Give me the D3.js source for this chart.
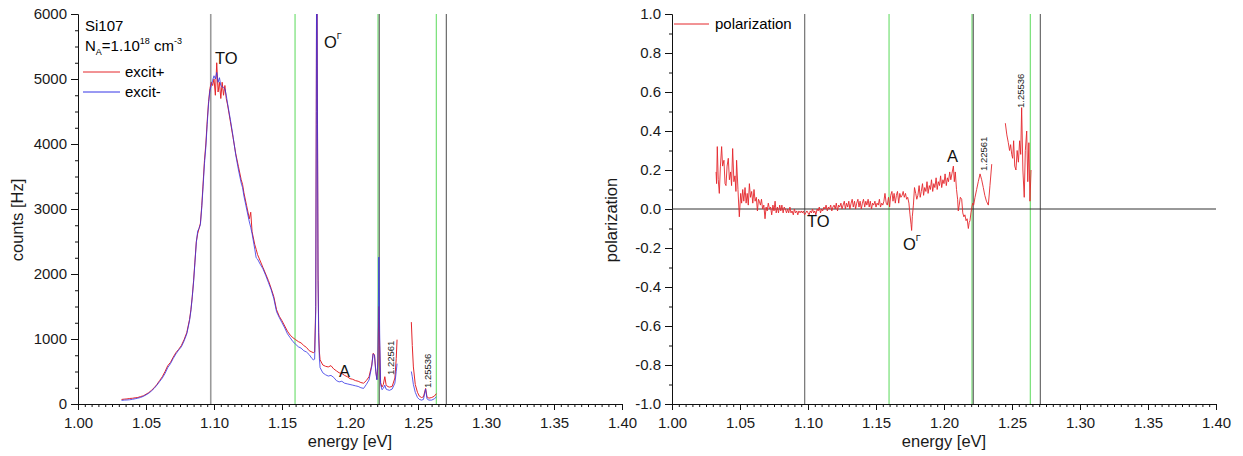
<!DOCTYPE html>
<html>
<head>
<meta charset="utf-8">
<script src="https://cdn.jsdelivr.net/npm/d3@7"></script>
<style>
  html, body { margin: 0; padding: 0; background: #fff; }
  svg { display: block; font-family: "Liberation Sans", Arial, sans-serif; }
  .tick text { font-size: 15px; fill: #1a1a1a; }
  .domain, .tick line { stroke: #111; }
</style>
</head>
<body>
<svg id="chart" width="1243" height="456"></svg>
<script>
// ---- photoluminescence spectra, Si107 (energy in eV, counts in Hz) ----
// null entries separate the two measured windows
const energyPL = [
  1.032,1.034,1.036,1.038,1.040,1.042,1.044,1.046,1.048,1.050,
  1.052,1.054,1.056,1.058,1.060,1.062,1.064,1.066,1.068,1.070,
  1.072,1.074,1.076,1.078,1.080,1.082,1.083,1.084,1.085,1.086,
  1.087,1.088,1.089,1.090,1.091,1.092,1.093,1.094,1.095,1.096,
  1.097,1.098,1.099,1.100,1.101,1.102,1.103,1.104,1.105,1.106,
  1.107,1.108,1.109,1.110,1.112,1.114,1.116,1.118,1.120,1.121,
  1.122,1.124,1.126,1.127,1.128,1.130,1.131,1.132,1.134,1.136,
  1.138,1.140,1.142,1.144,1.146,1.148,1.150,1.152,1.154,1.156,
  1.158,1.160,1.162,1.164,1.166,1.168,1.170,1.172,1.173,1.174,
  1.1748,1.1752,1.1756,1.1760,1.1765,1.1770,1.1775,1.178,1.180,1.182,
  1.184,1.186,1.188,1.190,1.192,1.194,1.196,1.198,1.200,1.202,
  1.204,1.206,1.208,1.210,1.212,1.214,1.216,1.217,1.218,1.219,
  1.2198,1.2205,1.2212,1.2218,1.2225,1.2235,1.2245,1.2256,1.2265,1.2275,
  1.229,1.231,1.233,1.234,1.2346,
  null,
  1.2451,1.2458,1.2466,1.248,1.2496,1.251,1.2526,1.254,1.2556,1.2566,
  1.258,1.2601,1.262,1.2635
];
const excitPlus = [
  70,75,78,85,88,95,100,115,125,150,
  175,210,250,300,360,420,500,590,640,720,
  790,840,900,990,1100,1300,1450,1650,1900,2200,
  2500,2620,2700,2780,3050,3400,3750,4000,4350,4650,
  4850,4950,4900,5000,4750,5250,4800,4950,4700,4950,
  4750,4900,4700,4600,4350,4100,3850,3650,3450,3380,
  3250,3050,2850,2950,2650,2450,2380,2300,2200,2100,
  2000,1900,1780,1650,1450,1350,1280,1200,1120,1060,
  1020,990,960,940,900,870,820,800,790,800,
  1500,4500,8000,5000,2000,1100,800,680,600,580,
  570,590,540,510,480,470,440,420,390,380,
  360,350,330,320,360,420,600,780,760,500,
  380,600,1500,900,330,260,300,420,300,270,
  260,270,400,700,990,
  null,
  1260,900,570,300,180,120,100,110,240,110,
  90,100,120,160
];
const excitMinus = [
  55,60,62,65,72,80,90,100,118,140,
  165,200,240,290,345,400,470,560,620,700,
  770,830,880,970,1080,1280,1430,1640,1880,2180,
  2480,2660,2700,2760,3020,3350,3700,3950,4300,4620,
  4820,4900,4980,5050,5000,5100,4950,5020,4900,4880,
  4870,4850,4750,4620,4380,4120,3830,3600,3400,3330,
  3200,3000,2800,2720,2620,2380,2250,2230,2150,2080,
  1980,1870,1760,1620,1420,1330,1250,1170,1080,1020,
  960,920,880,860,820,800,760,700,680,690,
  1400,4300,8000,4800,1900,1000,700,560,480,450,
  430,440,410,360,340,350,320,310,300,290,
  280,270,250,240,300,370,580,770,750,480,
  370,700,2260,1100,300,220,240,290,230,220,
  210,230,320,500,620,
  null,
  500,420,300,180,100,70,60,70,230,80,
  60,60,80,110
];

// ---- polarization spectrum ----
const energyPol = [
  1.0324,1.0328,1.0333,1.0340,1.0348,1.0356,1.0365,1.0372,1.0382,1.0390,
  1.0397,1.0405,1.0414,1.0422,1.0431,1.0438,1.0446,1.0455,1.0463,1.0470,
  1.0475,1.0485,1.0495,1.0505,1.0512,1.0520,1.0528,1.0537,1.0545,1.0553,
  1.0561,1.0569,1.0577,1.0586,1.0594,1.0603,1.0611,1.0620,1.0628,1.0636,
  1.0642,1.0650,1.0658,1.0666,1.0675,1.0684,1.0692,1.0700,1.0708,1.0717,
  1.0725,1.0733,1.0742,1.0750,1.0758,1.0766,1.0775,1.0783,1.0792,1.0800,
  1.0808,1.0817,1.0825,1.0833,1.0842,1.0850,1.0858,1.0867,1.0875,1.0883,
  1.0892,1.0900,1.0908,1.0917,1.0925,1.0933,1.0942,1.0950,1.0958,1.0966,
  1.0975,1.0983,1.0992,1.1000,1.1008,1.1017,1.1025,1.1033,1.1042,1.1050,
  1.1058,1.1067,1.1075,1.1083,1.1092,1.1100,1.1108,1.1117,1.1125,1.1133,
  1.1142,1.1150,1.1158,1.1167,1.1175,1.1183,1.1192,1.1200,1.1208,1.1217,
  1.1225,1.1233,1.1242,1.1250,1.1258,1.1267,1.1275,1.1283,1.1292,1.1300,
  1.1308,1.1317,1.1325,1.1333,1.1342,1.1350,1.1358,1.1367,1.1375,1.1383,
  1.1392,1.1400,1.1408,1.1417,1.1425,1.1433,1.1442,1.1450,1.1458,1.1467,
  1.1475,1.1483,1.1492,1.1500,1.1508,1.1517,1.1525,1.1533,1.1542,1.1550,
  1.1558,1.1566,1.1575,1.1583,1.1592,1.1600,1.1608,1.1617,1.1625,1.1633,
  1.1642,1.1650,1.1658,1.1667,1.1675,1.1683,1.1692,1.1700,1.1708,1.1717,
  1.1725,1.1733,1.1742,1.1750,1.1758,1.1762,1.1767,1.1775,1.1783,1.1792,
  1.1800,1.1808,1.1817,1.1825,1.1833,1.1842,1.1850,1.1858,1.1867,1.1875,
  1.1883,1.1892,1.1900,1.1908,1.1917,1.1925,1.1933,1.1942,1.1950,1.1958,
  1.1967,1.1975,1.1983,1.1992,1.2000,1.2008,1.2017,1.2025,1.2033,1.2042,
  1.2050,1.2058,1.2069,1.2076,1.2083,1.2092,1.2100,1.2105,1.2112,1.2120,
  1.2130,1.2138,1.2146,1.2154,1.2162,1.2170,1.2179,1.2185,1.2191,1.2198,
  1.2205,1.2211,1.2218,1.2228,1.2240,1.2252,1.2265,1.2277,1.2289,1.2300,
  1.2312,1.2326,1.2338,1.2351,
  null,
  1.2451,1.2462,1.2473,1.2482,1.2490,1.2498,1.2505,1.2512,1.2520,1.2529,
  1.2538,1.2547,1.2556,1.2564,1.2571,1.2580,1.2590,1.2598,1.2608,1.2616,
  1.2624,1.2632,1.2640
];
const polarization = [
  0.19,0.13,0.32,0.15,0.08,0.22,0.32,0.22,0.25,0.13,
  0.12,0.22,0.26,0.15,0.19,0.12,0.31,0.14,0.17,0.09,
  0.25,0.10,-0.04,0.08,0.03,0.10,0.04,0.11,0.03,0.08,
  0.02,0.13,0.06,0.09,0.03,0.10,0.04,0.06,-0.01,0.05,
  0.04,0.02,0.05,0.00,0.02,-0.05,0.01,-0.01,0.03,0.00,
  0.01,-0.03,0.02,-0.01,0.04,-0.02,0.01,-0.02,0.02,-0.01,
  0.02,-0.02,0.01,0.00,-0.02,0.00,-0.02,0.01,-0.02,-0.01,
  -0.03,0.00,-0.02,-0.01,-0.03,-0.01,-0.02,-0.01,-0.02,-0.01,
  -0.03,-0.02,-0.01,-0.02,-0.03,-0.01,-0.02,0.00,-0.02,-0.01,
  -0.03,0.00,-0.01,0.01,-0.02,0.00,-0.01,0.01,0.00,0.02,
  -0.01,0.01,0.00,0.02,-0.01,0.01,0.02,0.00,0.03,-0.01,
  0.02,0.01,0.03,0.00,0.02,0.04,0.00,0.03,0.01,0.04,
  0.00,0.03,0.05,0.01,0.04,0.00,0.03,0.05,0.01,0.04,
  0.00,0.03,0.05,0.01,0.04,0.02,0.05,0.01,0.04,0.00,
  0.03,0.02,0.04,0.01,0.03,0.02,0.05,0.01,0.03,0.02,
  0.04,0.08,0.03,0.02,0.06,0.01,0.07,0.09,0.04,0.08,
  0.03,0.07,0.09,0.03,0.08,0.06,0.07,0.09,0.06,0.08,
  0.05,0.06,0.03,-0.03,-0.08,-0.11,-0.04,0.02,0.11,0.08,
  0.05,0.07,0.12,0.06,0.09,0.13,0.07,0.11,0.09,0.14,
  0.08,0.12,0.10,0.15,0.09,0.13,0.11,0.16,0.10,0.14,
  0.12,0.17,0.11,0.15,0.13,0.18,0.12,0.16,0.14,0.19,
  0.15,0.18,0.22,0.14,0.19,0.10,0.05,-0.01,0.02,0.06,
  0.05,-0.02,-0.04,-0.03,-0.06,-0.05,-0.10,-0.07,-0.06,-0.02,
  0.01,0.03,0.02,0.06,0.10,0.14,0.18,0.15,0.11,0.07,
  0.04,0.02,0.12,0.23,
  null,
  0.44,0.38,0.34,0.30,0.33,0.28,0.26,0.35,0.22,0.20,
  0.30,0.24,0.35,0.28,0.52,0.20,0.06,0.30,0.40,0.14,
  0.34,0.04,0.20
];

// ---- reference energies drawn as vertical markers ----
const markerEnergies = [1.0976, 1.1596, 1.2206, 1.2215, 1.2635, 1.2708];
const markerKinds    = ["TO", "green", "green", "dark", "green", "dark"];

// ---- tick values ----
const energyTicks = [1.00, 1.05, 1.10, 1.15, 1.20, 1.25, 1.30, 1.35, 1.40];
const countTicks  = [0, 1000, 2000, 3000, 4000, 5000, 6000];
const polTicks    = [-1.0, -0.8, -0.6, -0.4, -0.2, 0.0, 0.2, 0.4, 0.6, 0.8, 1.0];

const RED = "#e4262b", BLUE = "#3434e6", GREEN = "#7fe27f";

const svg = d3.select("#chart");

// plain hyphen-minus for negative tick labels
const fmtPol = v => d3.format(".1f")(v).replace("\u2212", "-");

function minorValues(lo, hi, step) {
  const n = Math.round((hi - lo) / step);
  return d3.range(n + 1).map(i => +(lo + i * step).toFixed(6));
}

function panel(cfg) {
  const x = d3.scaleLinear().domain([1.0, 1.4]).range([cfg.left, cfg.left + 544]);
  const y = d3.scaleLinear().domain(cfg.yDomain).range([404, 14]);
  const g = svg.append("g");

  const clipId = "clip" + cfg.id;
  svg.append("clipPath").attr("id", clipId)
    .append("rect").attr("x", x(1.0)).attr("y", 14)
    .attr("width", x(1.4) - x(1.0)).attr("height", 390);

  // vertical marker lines
  markerEnergies.forEach((e, i) => {
    const kind = markerKinds[i];
    let stroke = "#4a4a4a", w = 1;
    if (kind === "green") { stroke = GREEN; w = 1.3; }
    if (kind === "TO") { stroke = cfg.toColor; w = cfg.toWidth; }
    g.append("line")
      .attr("x1", x(e)).attr("x2", x(e))
      .attr("y1", y.range()[1]).attr("y2", y.range()[0])
      .attr("stroke", stroke).attr("stroke-width", w);
  });

  // axes: minor ticks first, then labelled majors
  const xMinor = d3.axisBottom(x).tickValues(minorValues(1.0, 1.4, 0.005))
    .tickSize(3).tickSizeOuter(0).tickFormat("");
  const xMajor = d3.axisBottom(x).tickValues(energyTicks)
    .tickSize(6).tickSizeOuter(0).tickPadding(7).tickFormat(d3.format(".2f"));
  g.append("g").attr("transform", "translate(0,404)").call(xMinor);
  g.append("g").attr("transform", "translate(0,404)").call(xMajor);

  const yMinor = d3.axisLeft(y).tickValues(cfg.yMinor)
    .tickSize(3).tickSizeOuter(0).tickFormat("");
  const yMajor = d3.axisLeft(y).tickValues(cfg.yTicks)
    .tickSize(7).tickSizeOuter(0).tickPadding(4).tickFormat(cfg.yFormat);
  g.append("g").attr("transform", `translate(${cfg.left},0)`).call(yMinor);
  g.append("g").attr("transform", `translate(${cfg.left},0)`).call(yMajor);

  g.selectAll(".tick text").attr("font-size", 15);

  // axis titles
  g.append("text")
    .attr("transform", `translate(${cfg.left - 55},220) rotate(-90)`)
    .attr("text-anchor", "middle").attr("font-size", 16.5).attr("fill", "#1a1a1a")
    .text(cfg.yTitle);
  g.append("text")
    .attr("x", cfg.left + 272).attr("y", 447)
    .attr("text-anchor", "middle").attr("font-size", 16.5).attr("fill", "#1a1a1a")
    .text("energy [eV]");

  return { x, y, g, clipId };
}

// ---------------- left panel: counts ----------------
const L = panel({
  id: "L", left: 78, yDomain: [0, 6000], yTicks: countTicks,
  yMinor: minorValues(0, 6000, 250), yFormat: d3.format("d"),
  yTitle: "counts [Hz]", toColor: "#9a9a9a", toWidth: 1.6
});

function seriesLine(sc, xs, ys) {
  return d3.line()
    .defined((d, i) => xs[i] !== null && ys[i] !== null)
    .x((d, i) => sc.x(xs[i]))
    .y((d, i) => sc.y(ys[i]))(xs);
}

const dataL = L.g.append("g").attr("clip-path", `url(#${L.clipId})`);
dataL.append("path").attr("d", seriesLine(L, energyPL, excitPlus))
  .attr("fill", "none").attr("stroke", RED).attr("stroke-width", 1);
dataL.append("path").attr("d", seriesLine(L, energyPL, excitMinus))
  .attr("fill", "none").attr("stroke", BLUE).attr("stroke-width", 1)
  .attr("stroke-opacity", 0.8);

// sample annotation and legend
L.g.append("text").attr("x", 85).attr("y", 31).attr("font-size", 15).text("Si107");
const na = L.g.append("text").attr("x", 85).attr("y", 51).attr("font-size", 15);
na.append("tspan").text("N");
na.append("tspan").attr("font-size", 9).attr("dy", 4).text("A");
na.append("tspan").attr("dy", -4).text("=1.10");
na.append("tspan").attr("font-size", 9).attr("dy", -7).text("18");
na.append("tspan").attr("dy", 7).text(" cm");
na.append("tspan").attr("font-size", 9).attr("dy", -7).text("-3");

[["excit+", RED, 72], ["excit-", BLUE, 92]].forEach(([label, c, yy]) => {
  L.g.append("line").attr("x1", 83).attr("x2", 120).attr("y1", yy).attr("y2", yy)
    .attr("stroke", c).attr("stroke-width", 1);
  L.g.append("text").attr("x", 125).attr("y", yy + 5).attr("font-size", 15).text(label);
});

function peakLabels(sc, items) {
  items.forEach(it => {
    const t = sc.g.append("text").attr("x", it.x).attr("y", it.y)
      .attr("font-size", 16.5).attr("fill", "#111");
    t.append("tspan").text(it.main);
    if (it.sup) t.append("tspan").attr("font-size", 9).attr("dy", -9).text(it.sup);
  });
}
function rotatedLabel(sc, e, baseX, startY) {
  sc.g.append("text")
    .attr("transform", `translate(${baseX},${startY}) rotate(-90)`)
    .attr("font-size", 9.5).attr("fill", "#222").text(e.toFixed(5));
}

peakLabels(L, [
  { x: 215, y: 64, main: "TO" },
  { x: 324, y: 48, main: "O", sup: "\u0393" },
  { x: 339, y: 377, main: "A" }
]);
rotatedLabel(L, 1.22561, 394, 375);
rotatedLabel(L, 1.25536, 431, 388);

// ---------------- right panel: polarization ----------------
const R = panel({
  id: "R", left: 672, yDomain: [-1, 1], yTicks: polTicks,
  yMinor: minorValues(-1, 1, 0.1), yFormat: fmtPol,
  yTitle: "polarization", toColor: "#555", toWidth: 1
});

// zero reference line
R.g.append("line").attr("x1", R.x(1.0)).attr("x2", R.x(1.4))
  .attr("y1", R.y(0)).attr("y2", R.y(0)).attr("stroke", "#333").attr("stroke-width", 1);

const dataR = R.g.append("g").attr("clip-path", `url(#${R.clipId})`);
dataR.append("path").attr("d", seriesLine(R, energyPol, polarization))
  .attr("fill", "none").attr("stroke", RED).attr("stroke-width", 0.9);

R.g.append("line").attr("x1", 674).attr("x2", 709).attr("y1", 24).attr("y2", 24)
  .attr("stroke", RED).attr("stroke-width", 1);
R.g.append("text").attr("x", 715).attr("y", 29).attr("font-size", 15).text("polarization");

peakLabels(R, [
  { x: 807, y: 227, main: "TO" },
  { x: 903, y: 250, main: "O", sup: "\u0393" },
  { x: 947, y: 162, main: "A" }
]);
rotatedLabel(R, 1.22561, 987, 171);
rotatedLabel(R, 1.25536, 1024, 108);
</script>
</body>
</html>
